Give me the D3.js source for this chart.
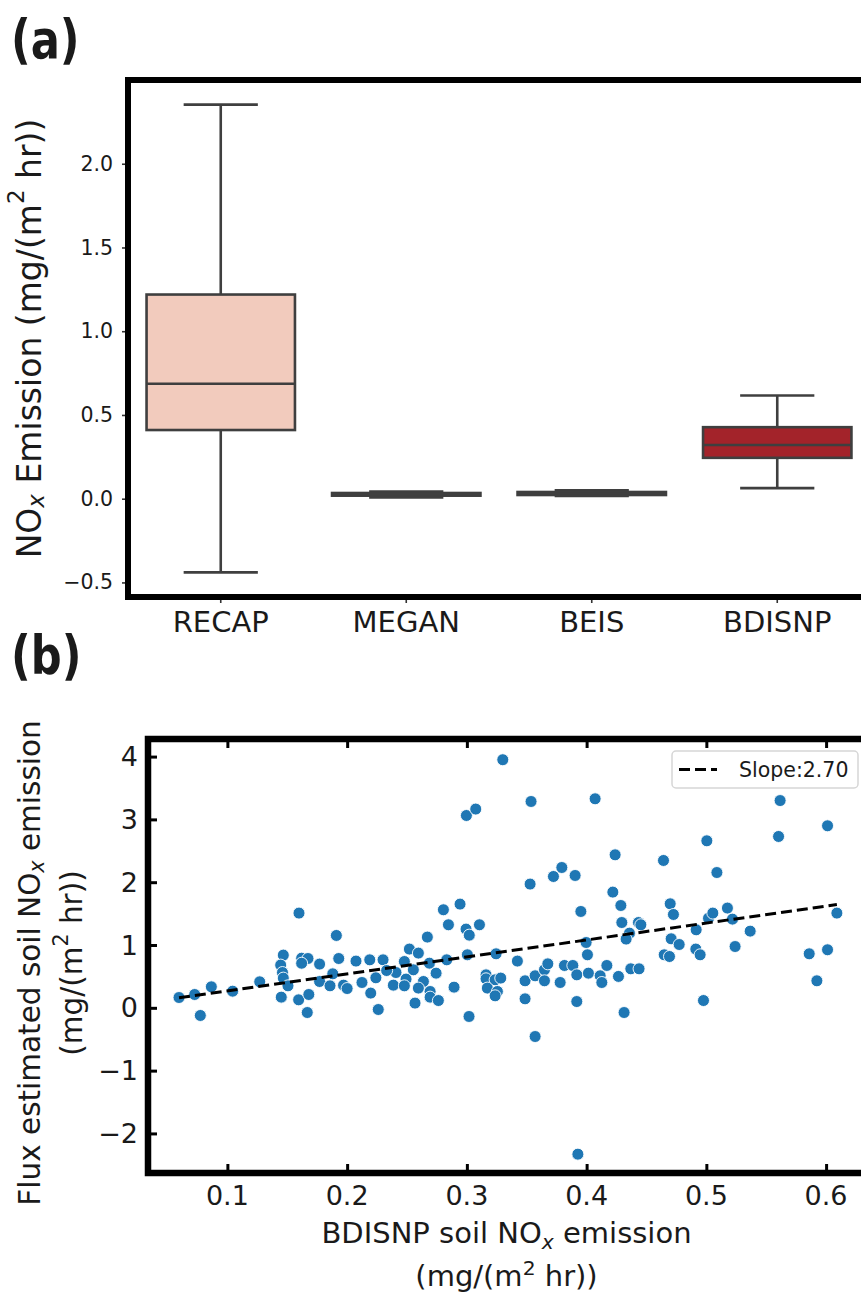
<!DOCTYPE html>
<html>
<head>
<meta charset="utf-8">
<script src="https://cdn.jsdelivr.net/npm/d3@7"></script>
<style>
  html, body { margin: 0; padding: 0; background: #fff; }
  svg { display: block; }
  text { font-family: "DejaVu Sans", sans-serif; fill: #1a1a1a; }
</style>
</head>
<body>
<div id="chart"></div>
<script>
// ---------- panel (a): box summaries per emission inventory ----------
const categories = ["RECAP", "MEGAN", "BEIS", "BDISNP"];
const whiskerLow  = [-0.440, 0.008, 0.016, 0.063];
const quartile1   = [0.410, 0.018, 0.022, 0.244];
const medians     = [0.686, 0.027, 0.031, 0.321];
const quartile3   = [1.219, 0.034, 0.040, 0.427];
const whiskerHigh = [2.353, 0.043, 0.050, 0.616];
const boxTicks = [-0.5, 0.0, 0.5, 1.0, 1.5, 2.0];

// ---------- panel (b): flux estimate vs BDISNP, one point per sample ----------
const bdisnp = [
  0.0596, 0.0727, 0.0774, 0.0866, 0.1044, 0.127, 0.1598, 0.1467, 0.1445, 0.146,
  0.1467, 0.1506, 0.145, 0.162, 0.1673, 0.162, 0.177, 0.1595, 0.168, 0.1667,
  0.191, 0.193, 0.188, 0.177, 0.1857, 0.197, 0.200, 0.2074, 0.2189, 0.2124,
  0.2197, 0.226, 0.230, 0.224,
  0.2804, 0.2943, 0.2846, 0.2993, 0.302, 0.3105, 0.267, 0.252, 0.2595, 0.2478,
  0.2553, 0.2408, 0.233, 0.2492, 0.2637, 0.2386, 0.2478, 0.2595, 0.2693, 0.2693,
  0.2762, 0.2567, 0.2743, 0.2687, 0.2832, 0.2893, 0.3004, 0.3018, 0.3244, 0.316,
  0.316, 0.3236, 0.3283, 0.3171, 0.3255, 0.3236, 0.3422, 0.3486, 0.3486, 0.357,
  0.357, 0.3648, 0.3676, 0.3648, 0.3779, 0.3815, 0.3885, 0.3918, 0.3918, 0.3952,
  0.4007, 0.3996, 0.4015, 0.4113, 0.4127, 0.4169, 0.4266,
  0.4286, 0.4294, 0.4433, 0.4453, 0.4358, 0.433, 0.4369, 0.4438, 0.4313, 0.4698,
  0.4725, 0.4706, 0.4773, 0.4648, 0.4692, 0.4915, 0.4912, 0.4948, 0.4976, 0.5018,
  0.5054, 0.5176, 0.5218, 0.524, 0.5366, 0.5859, 0.6012, 0.5923, 0.609,
  0.330, 0.3536, 0.4071, 0.5616, 0.6012, 0.5603, 0.5004, 0.4238, 0.4642, 0.5088,
  0.3793, 0.3723, 0.3904, 0.3528, 0.4219, 0.2996, 0.3074, 0.3927
];
const fluxEstimate = [
  0.164, 0.212, -0.122, 0.334, 0.265, 0.414, 1.508, 0.839, 0.680, 0.562,
  0.473, 0.350, 0.170, 0.790, 0.785, 0.710, 0.696, 0.127, 0.212, -0.075,
  1.152, 0.785, 0.541, 0.419, 0.350, 0.361, 0.307, 0.744, 0.764, 0.403,
  0.234, -0.027, 0.764, 0.478,
  1.561, 1.651, 1.322, 1.253, 1.157, 1.322, 1.126, 0.935, 0.871, 0.737,
  0.605, 0.562, 0.594, 0.457, 0.419, 0.361, 0.350, 0.314, 0.260, 0.170,
  0.116, 0.075, 0.552, 0.711, 0.764, 0.329, 0.844, -0.138, 0.860, 0.525,
  0.462, 0.446, 0.473, 0.314, 0.260, 0.191, 0.744, 0.430, 0.143, -0.457,
  0.510, 0.605, 0.700, 0.430, 0.403, 0.674, 0.674, 0.525, 0.100, 1.534,
  0.844, 1.040, 0.552, 0.510, 0.403, 0.674, 0.500,
  1.629, 1.358, 1.358, 1.322, 1.189, 1.094, 0.621, 0.621, -0.075, 1.656,
  1.486, 1.099, 1.008, 0.844, 0.817, 1.242, 0.935, 0.844, 0.116, 1.428,
  1.508, 1.588, 1.412, 0.976, 1.221, 0.860, 0.924, 0.430, 1.508,
  3.950, 3.285, 3.328, 3.300, 2.898, 2.728, 2.659, 2.436, 2.346, 2.154,
  2.234, 2.091, 2.107, 1.970, 1.842, 3.062, 3.164, -2.330
];
const fitSlope = 2.70;   // least-squares slope through the origin
const scatterXTicks = [0.1, 0.2, 0.3, 0.4, 0.5, 0.6];
const scatterYTicks = [-2, -1, 0, 1, 2, 3, 4];

// ---------- styling ----------
const boxColors = ["#f2cbbd", "#eb9079", "#d9503f", "#a3232a"];
const boxLine = "#3f3f3f";
const dotColor = "#1f77b4";

const W = 861, H = 1293;
const svg = d3.select("#chart").append("svg")
  .attr("width", W).attr("height", H)
  .attr("viewBox", `0 0 ${W} ${H}`);
svg.append("rect").attr("width", W).attr("height", H).attr("fill", "#fff");

// rich text helper for sub/superscripts
function richText(sel, parts, fs) {
  let shift = 0;
  parts.forEach(p => {
    const target = p.sub ? 0.22 * fs : p.sup ? -0.38 * fs : 0;
    const ts = sel.append("tspan").text(p.t).attr("dy", target - shift);
    if (p.sub || p.sup) ts.attr("font-size", 0.7 * fs);
    if (p.it) ts.attr("font-style", "italic");
    shift = target;
  });
}

// bold panel letters
function panelTag(x, y, label) {
  svg.append("text")
    .attr("transform", `translate(${x},${y}) scale(0.8,1)`)
    .attr("font-family", "Liberation Sans, Arial, sans-serif").attr("font-weight", "bold")
    .attr("font-size", 54).attr("fill", "#000").text(label);
}

// ================= panel (a) =================
const A = { left: 128, right: 870, top: 80, bottom: 597 };
const xa = d3.scaleBand().domain(categories).range([A.left, A.right]).padding(0);
const ya = d3.scaleLinear().domain([-0.587, 2.50]).range([A.bottom, A.top]);

const ga = svg.append("g");
const bw = xa.bandwidth() * 0.8;

const boxes = categories.map((c, i) => ({
  c, lo: whiskerLow[i], q1: quartile1[i], med: medians[i], q3: quartile3[i], hi: whiskerHigh[i], color: boxColors[i]
}));

const bg = ga.selectAll("g.box").data(boxes).join("g").attr("class", "box");
bg.each(function (d) {
  const g = d3.select(this);
  const cx = xa(d.c) + xa.bandwidth() / 2;
  const st = l => l.attr("stroke", boxLine).attr("stroke-width", 2.6).attr("fill", "none");
  st(g.append("line").attr("x1", cx).attr("x2", cx).attr("y1", ya(d.lo)).attr("y2", ya(d.q1)));
  st(g.append("line").attr("x1", cx).attr("x2", cx).attr("y1", ya(d.q3)).attr("y2", ya(d.hi)));
  st(g.append("line").attr("x1", cx - bw / 4).attr("x2", cx + bw / 4).attr("y1", ya(d.lo)).attr("y2", ya(d.lo)));
  st(g.append("line").attr("x1", cx - bw / 4).attr("x2", cx + bw / 4).attr("y1", ya(d.hi)).attr("y2", ya(d.hi)));
  g.append("rect").attr("x", cx - bw / 2).attr("width", bw)
    .attr("y", ya(d.q3)).attr("height", ya(d.q1) - ya(d.q3))
    .attr("fill", d.color).attr("stroke", boxLine).attr("stroke-width", 2.6);
  st(g.append("line").attr("x1", cx - bw / 2).attr("x2", cx + bw / 2).attr("y1", ya(d.med)).attr("y2", ya(d.med)));
});

// axes (a): outward ticks
const axAy = ga.append("g").attr("transform", `translate(${A.left},0)`)
  .call(d3.axisLeft(ya).tickValues(boxTicks).tickFormat(d3.format(".1f")).tickSize(6).tickPadding(9));
axAy.select(".domain").remove();
axAy.selectAll(".tick line").attr("stroke", "#333").attr("stroke-width", 1.6);
axAy.selectAll(".tick text").attr("font-size", 20.5).attr("font-family", "DejaVu Sans").attr("fill", "#1a1a1a");

const axAx = ga.append("g").attr("transform", `translate(0,${A.bottom})`)
  .call(d3.axisBottom(xa).tickSize(6).tickPadding(8));
axAx.select(".domain").remove();
axAx.selectAll(".tick line").attr("stroke", "#333").attr("stroke-width", 1.6);
axAx.selectAll(".tick text").attr("font-size", 29).attr("font-family", "DejaVu Sans").attr("fill", "#1a1a1a");

ga.append("rect").attr("x", A.left).attr("y", A.top)
  .attr("width", A.right - A.left).attr("height", A.bottom - A.top)
  .attr("fill", "none").attr("stroke", "#000").attr("stroke-width", 6);

const yla = ga.append("text")
  .attr("transform", `translate(29,${(A.top + A.bottom) / 2}) rotate(-90)`)
  .attr("text-anchor", "middle").attr("dominant-baseline", "central")
  .attr("font-size", 33);
richText(yla, [{ t: "NO" }, { t: "x", sub: true, it: true }, { t: " Emission (mg/(m" }, { t: "2", sup: true }, { t: " hr))" }], 33);

panelTag(11, 58, "(a)");

// ================= panel (b) =================
const B = { left: 148, right: 871, top: 739, bottom: 1173 };
const xb = d3.scaleLinear().domain([0.0337, 0.6375]).range([B.left, B.right]);
const yb = d3.scaleLinear().domain([-2.63, 4.28]).range([B.bottom, B.top]);

const gb = svg.append("g");
const pts = bdisnp.map((x, i) => ({ x, y: fluxEstimate[i] }));

gb.append("g").selectAll("circle").data(pts).join("circle")
  .attr("cx", d => xb(d.x)).attr("cy", d => yb(d.y)).attr("r", 6)
  .attr("fill", dotColor).attr("stroke", "#fff").attr("stroke-width", 0.9);

const [xmin, xmax] = d3.extent(bdisnp);
gb.append("line")
  .attr("x1", xb(xmin)).attr("y1", yb(fitSlope * xmin))
  .attr("x2", xb(xmax)).attr("y2", yb(fitSlope * xmax))
  .attr("stroke", "#000").attr("stroke-width", 3).attr("stroke-dasharray", "11,5");

// inward ticks on all four sides
function styleAxis(g) {
  g.select(".domain").remove();
  g.selectAll(".tick line").attr("stroke", "#000").attr("stroke-width", 3);
}
styleAxis(gb.append("g").attr("transform", `translate(0,${B.bottom})`)
  .call(d3.axisBottom(xb).tickValues(scatterXTicks).tickFormat("").tickSize(-9)));
styleAxis(gb.append("g").attr("transform", `translate(0,${B.top})`)
  .call(d3.axisTop(xb).tickValues(scatterXTicks).tickFormat("").tickSize(-9)));
styleAxis(gb.append("g").attr("transform", `translate(${B.left},0)`)
  .call(d3.axisLeft(yb).tickValues(scatterYTicks).tickFormat("").tickSize(-9)));
styleAxis(gb.append("g").attr("transform", `translate(${B.right},0)`)
  .call(d3.axisRight(yb).tickValues(scatterYTicks).tickFormat("").tickSize(-9)));

// tick labels placed from the same scales
const fmtX = d3.format(".1f");
const fmtY = d3.format("d");
gb.append("g").selectAll("text").data(scatterXTicks).join("text")
  .attr("x", d => xb(d)).attr("y", B.bottom + 32)
  .attr("text-anchor", "middle").attr("font-size", 27).text(fmtX);
gb.append("g").selectAll("text").data(scatterYTicks).join("text")
  .attr("x", B.left - 10).attr("y", d => yb(d) + 9.5)
  .attr("text-anchor", "end").attr("font-size", 27).text(fmtY);

gb.append("rect").attr("x", B.left).attr("y", B.top)
  .attr("width", B.right - B.left).attr("height", B.bottom - B.top)
  .attr("fill", "none").attr("stroke", "#000").attr("stroke-width", 6.5);

// legend
const lg = gb.append("g");
lg.append("rect").attr("x", 672).attr("y", 751).attr("width", 186).attr("height", 37)
  .attr("rx", 4).attr("fill", "#fff").attr("fill-opacity", 0.9)
  .attr("stroke", "#d6d6d6").attr("stroke-width", 1.5);
lg.append("line").attr("x1", 679).attr("x2", 717).attr("y1", 769.5).attr("y2", 769.5)
  .attr("stroke", "#000").attr("stroke-width", 3).attr("stroke-dasharray", "11,5");
lg.append("text").attr("x", 739).attr("y", 777).attr("font-size", 20.5)
  .text(`Slope:${fitSlope.toFixed(2)}`);

// axis titles (b)
const xlb = gb.append("text").attr("x", (B.left + B.right) / 2 - 3).attr("y", 1243)
  .attr("text-anchor", "middle").attr("font-size", 29);
richText(xlb, [{ t: "BDISNP soil NO" }, { t: "x", sub: true, it: true }, { t: " emission" }], 29);
const xlb2 = gb.append("text").attr("x", (B.left + B.right) / 2 - 3).attr("y", 1286)
  .attr("text-anchor", "middle").attr("font-size", 29);
richText(xlb2, [{ t: "(mg/(m" }, { t: "2", sup: true }, { t: " hr))" }], 29);

const ycy = (B.top + B.bottom) / 2 + 7;
const ylb = gb.append("text").attr("transform", `translate(30,${ycy}) rotate(-90)`)
  .attr("text-anchor", "middle").attr("dominant-baseline", "central").attr("font-size", 29.5);
richText(ylb, [{ t: "Flux estimated soil NO" }, { t: "x", sub: true, it: true }, { t: " emission" }], 29.5);
const ylb2 = gb.append("text").attr("transform", `translate(72,${ycy}) rotate(-90)`)
  .attr("text-anchor", "middle").attr("dominant-baseline", "central").attr("font-size", 29.5);
richText(ylb2, [{ t: "(mg/(m" }, { t: "2", sup: true }, { t: " hr))" }], 29.5);

panelTag(11, 674, "(b)");
</script>
</body>
</html>
